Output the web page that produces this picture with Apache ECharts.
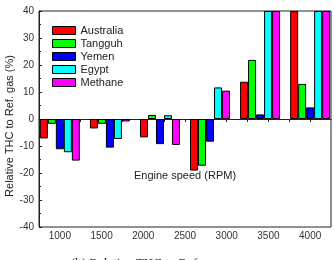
<!DOCTYPE html>
<html>
<head>
<meta charset="utf-8">
<script src="https://cdn.jsdelivr.net/npm/echarts@6/dist/echarts.min.js"></script>
<style>html,body{margin:0;padding:0;background:#fff}#c{width:334px;height:260px}</style>
</head>
<body>
<div id="c"></div>
<script>
var speeds = [1000, 1600, 2200, 2800, 3400, 4000];
var tickLabels = [1000, 1500, 2000, 2500, 3000, 3500, 4000];
var minorTicks = [1000, 1250, 1500, 1750, 2000, 2250, 2500, 2750, 3000, 3250, 3500, 3750, 4000];
var seriesNames = ['Australia', 'Tangguh', 'Yemen', 'Egypt', 'Methane'];
var australia = [-7.2, -3.5, -6.8, -19.1, 13.8, 40];
var tangguh   = [-1.8, -1.8, 1.5, -17.3, 21.9, 13];
var yemen     = [-11.2, -10.6, -9.3, -8.4, 1.7, 4.3];
var egypt     = [-12.3, -7.4, 1.4, 11.7, 40, 40];
var methane   = [-15.4, -0.9, -9.6, 10.5, 40, 40];
var colors = ['#ff0000', '#00ff00', '#0000ff', '#00ffff', '#ff00ff'];
var allData = [australia, tangguh, yemen, egypt, methane];

var chart = echarts.init(document.getElementById('c'), null, {renderer: 'canvas'});
var series = seriesNames.map(function (n, i) {
  return {
    name: n,
    type: 'bar',
    barWidth: 8,
    barGap: '0%',
    data: speeds.map(function (s, j) { return [s, allData[i][j]]; }),
    itemStyle: {color: colors[i], borderColor: '#000', borderWidth: 1},
    emphasis: {disabled: true}
  };
});
chart.setOption({
  animation: false,
  backgroundColor: '#fff',
  grid: {left: 39, right: 3, top: 11, bottom: 33, containLabel: false, outerBoundsMode: 'none',
         show: true, borderColor: '#222', borderWidth: 1, backgroundColor: 'transparent'},
  legend: {
    orient: 'vertical', left: 52, top: 24, padding: 0, itemWidth: 23, itemHeight: 8, itemGap: 0,
    icon: 'rect',
    itemStyle: {borderColor: '#000', borderWidth: 1},
    textStyle: {fontFamily: 'Liberation Sans', fontSize: 11, color: '#222', lineHeight: 13},
    data: seriesNames
  },
  xAxis: {
    type: 'value', min: 750, max: 4250,
    axisLine: {onZero: true, lineStyle: {color: '#222', width: 1}},
    axisTick: {show: true, inside: false, length: 3, customValues: minorTicks, lineStyle: {color: '#222'}},
    axisLabel: {customValues: tickLabels, fontFamily: 'Liberation Sans', fontSize: 10, color: '#333', margin: 4,
                formatter: function (v) { return String(v); }},
    splitLine: {show: false}
  },
  yAxis: {
    type: 'value', min: -40, max: 40, interval: 10,
    axisLine: {show: true, lineStyle: {color: '#222', width: 1}},
    axisTick: {show: true, inside: true, length: 3, lineStyle: {color: '#222'}},
    minorTick: {show: true, splitNumber: 2, length: 2, lineStyle: {color: '#222'}},
    axisLabel: {fontFamily: 'Liberation Sans', fontSize: 10, color: '#333', margin: 5},
    splitLine: {show: false}
  },
  graphic: [{
    type: 'text', x: 10, y: 126, rotation: Math.PI / 2,
    style: {text: 'Relative THC to Ref. gas (%)', font: '11px "Liberation Sans"', fill: '#222', align: 'center', verticalAlign: 'middle'}
  }, {
    type: 'text', x: 185, y: 176,
    style: {text: 'Engine speed (RPM)', font: '11px "Liberation Sans"', fill: '#222', align: 'center', verticalAlign: 'middle'}
  }, {
    type: 'text', x: 146, y: 257,
    style: {text: '(b) Relative THC to Ref. gas', font: '13px "Liberation Serif"', fill: '#222', align: 'center', verticalAlign: 'top'}
  }],
  series: series
});
</script>
</body>
</html>
